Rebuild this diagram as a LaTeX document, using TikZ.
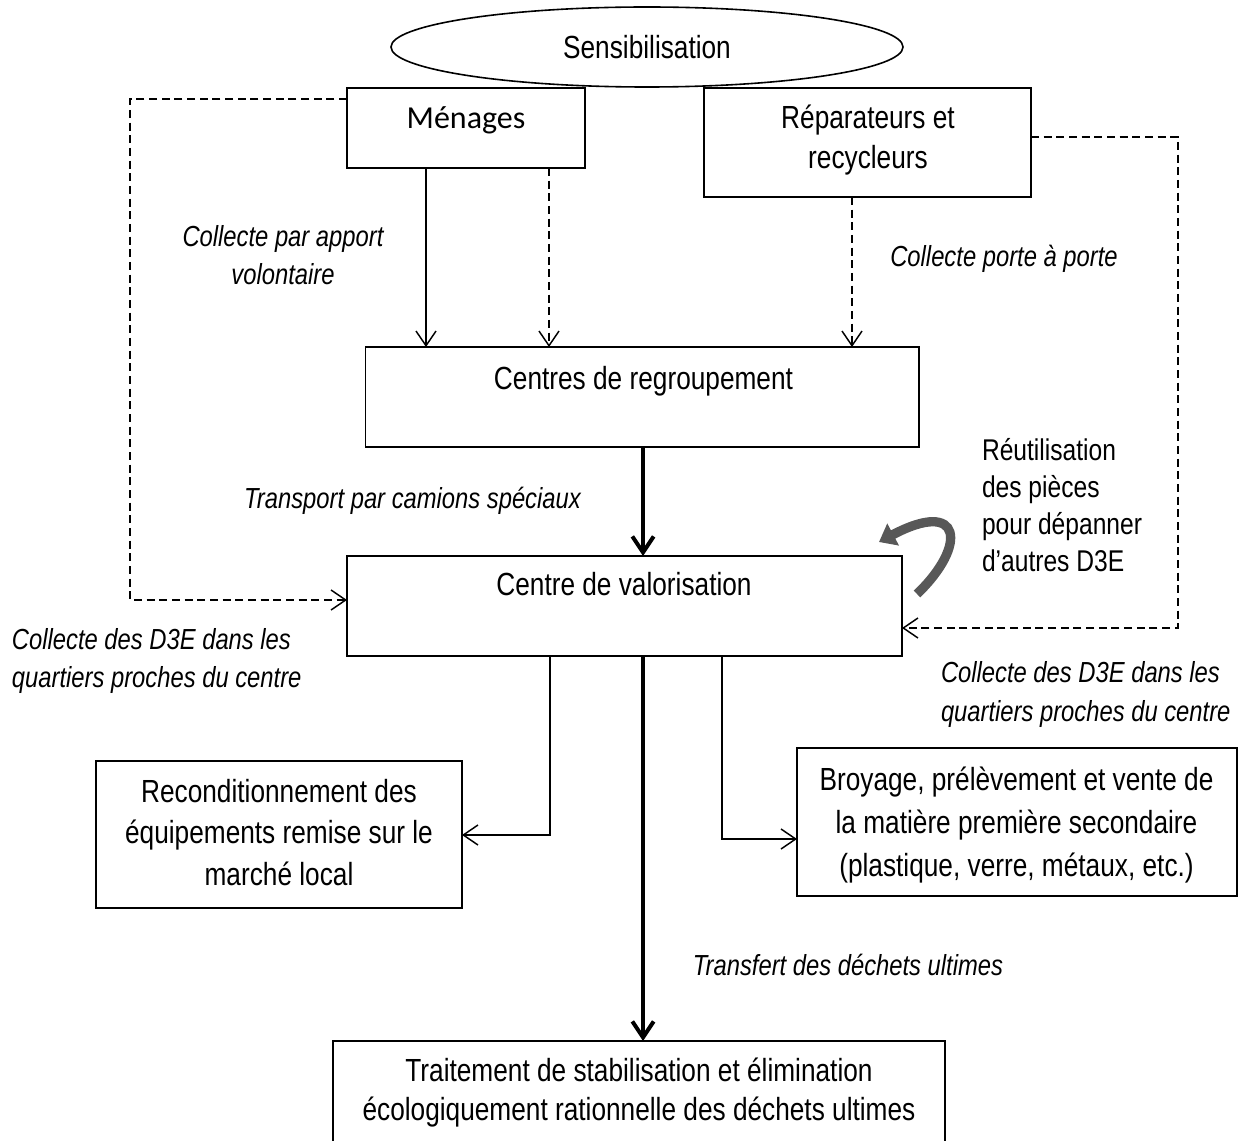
\documentclass[tikz,border=0pt]{standalone}
\usepackage{fontspec}
\setmainfont{Liberation Sans}[FakeStretch=0.82]
\newfontfamily\calfont{Carlito}
\usetikzlibrary{arrows.meta,fit,shapes.geometric}
\definecolor{arrgray}{RGB}{88,88,88}
\begin{document}
\begin{tikzpicture}[x=0.75pt,y=-0.75pt,
 box/.style={draw, line width=1.2pt, inner sep=0pt, outer sep=0pt},
 lbl/.style={inner sep=0pt, outer sep=0pt, align=center, font=\fontsize{24}{#1}\selectfont},
 ilbl/.style={inner sep=0pt, outer sep=0pt, font=\fontsize{21.75}{#1}\selectfont\itshape},
 conn/.style={line width=1.1pt, -{Straight Barb[length=11pt,width=15pt]}},
 dconn/.style={conn, dash pattern=on 6pt off 3.5pt},
 thickconn/.style={line width=3pt, -{Straight Barb[length=12pt,width=16pt]}},
]
\path[use as bounding box] (0,0) rectangle (1239,1141);

% ellipse
\node[draw, ellipse, line width=1.2pt, inner sep=0pt, outer sep=0pt,
      minimum width=384pt, minimum height=60pt,
      font=\fontsize{24}{28}\selectfont] (sens) at (647,47) {Sensibilisation};

% boxes
\node[box, fit={(347,88) (585,168)}] (men) {};
\node[box, fit={(704,88) (1031,197)}] (rep) {};
\node[box, fit={(365.5,347) (919,447)}] (creg) {};
\node[box, fit={(347,556) (902,656)}] (cv) {};
\node[box, fit={(96,761) (462,908)}] (recon) {};
\node[box, fit={(797,748) (1237,896)}] (broy) {};
\node[box, fit={(333,1041) (945,1160)}] (trait) {};

% box texts
\node[inner sep=0pt, font=\calfont\fontsize{24}{28}\selectfont] (tmen) at (466,120.3) {Ménages};
\node[lbl=30] (trep) at (868,140) {Réparateurs et\\recycleurs};
\node[lbl=30] (tcreg) at (643.5,381.4) {Centres de regroupement};
\node[lbl=30] (tcv) at (624,584.5) {Centre de valorisation};
\node[lbl=31.1] (trecon) at (279,832.3) {Reconditionnement des\\équipements remise sur le\\marché local};
\node[lbl=32.25] (tbroy) at (1016.5,824.8) {Broyage, prélèvement et vente de\\la matière première secondaire\\(plastique, verre, métaux, etc.)};
\node[lbl=29.25] (ttrait) at (639,1093) {Traitement de stabilisation et élimination\\écologiquement rationnelle des déchets ultimes};

% side labels
\node[ilbl=28.5, align=center] (l1) at (283,255.2) {Collecte par apport\\volontaire};
\node[ilbl=28.5] (l2) at (1004,259) {Collecte porte à porte};
\node[ilbl=28.5] (l3) at (412.5,500.5) {Transport par camions spéciaux};
\node[ilbl=28.5, align=left, anchor=west] (l4) at (12,661) {Collecte des D3E dans les\\quartiers proches du centre};
\node[ilbl=29.25, align=left, anchor=west] (l5) at (941,694.4) {Collecte des D3E dans les\\quartiers proches du centre};
\node[ilbl=28.5] (l6) at (848,965) {Transfert des déchets ultimes};
\node[inner sep=0pt, outer sep=0pt, align=left, anchor=west, font=\fontsize{22.5}{27.8}\selectfont] (reut) at (982,505) {Réutilisation\\des pièces\\pour dépanner\\d’autres D3E};

% connectors
\draw[conn] (426,0 |- men.south) -- (426,0 |- creg.north);
\draw[dconn] (549,0 |- men.south) -- (549,0 |- creg.north);
\draw[dconn] (852,0 |- rep.south) -- (852,0 |- creg.north);
\draw[dconn] (men.west |- 0,99) -| (130,600) -- (cv.west |- 0,600);
\draw[dconn] (rep.east |- 0,137) -| (1178,628) -- (cv.east |- 0,628);
\draw[thickconn] (643,0 |- creg.south) -- (643,0 |- cv.north);
\draw[conn] (550,0 |- cv.south) |- (recon.east |- 0,835);
\draw[conn] (722,0 |- cv.south) |- (broy.west |- 0,839);
\draw[thickconn] (643,0 |- cv.south) -- (643,0 |- trait.north);

% curved reuse arrow
\coordinate (ca) at (917,594);
\coordinate (cb) at (879,542);
\draw[line width=7pt, arrgray, -{Triangle[length=12pt,width=18pt]}] (ca) .. controls (968,545) and (962,498) .. (cb);
\end{tikzpicture}
\end{document}
